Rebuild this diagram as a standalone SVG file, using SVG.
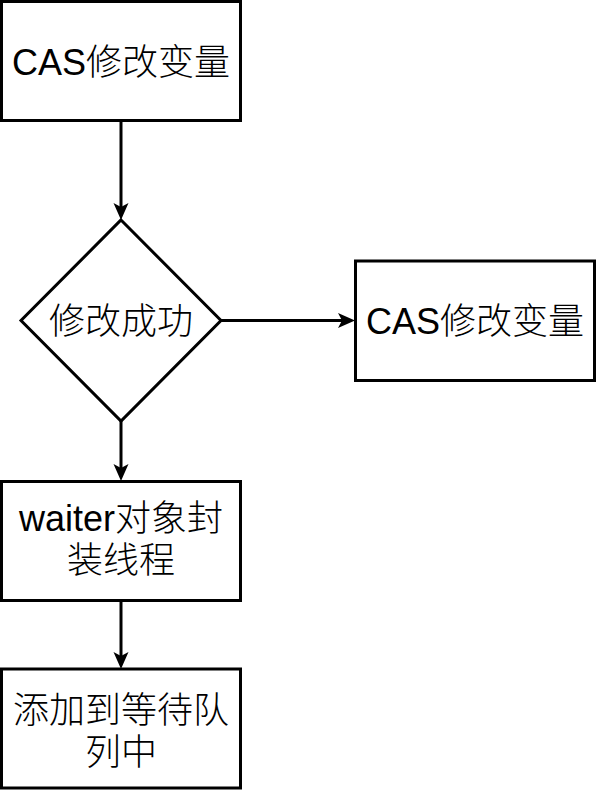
<svg xmlns="http://www.w3.org/2000/svg" width="596" height="790" viewBox="0 0 596 790">
<style>
.node{fill:#ffffff;stroke:#000000;stroke-width:3}
.lbl{font-family:"Liberation Sans","Noto Sans CJK SC",sans-serif;font-size:36px;font-weight:300;fill:#000000;text-anchor:middle}
.edge{fill:none;stroke:#000000;stroke-width:3}
</style>
<defs>
<marker id="arr" markerUnits="userSpaceOnUse" markerWidth="20" markerHeight="18" viewBox="0 0 20 18" refX="5" refY="9" orient="auto">
<path d="M17,9 L0,1.5 L4,9 L0,16.5 Z" fill="#000000"/>
</marker>
</defs>
<rect width="596" height="790" fill="#ffffff"/>
<g id="connectors">
<line class="edge" x1="121" y1="120.5" x2="121" y2="208" marker-end="url(#arr)"/>
<line class="edge" x1="221" y1="320.5" x2="343" y2="320.5" marker-end="url(#arr)"/>
<line class="edge" x1="121" y1="421" x2="121" y2="469" marker-end="url(#arr)"/>
<line class="edge" x1="121" y1="600.5" x2="121" y2="657" marker-end="url(#arr)"/>
</g>
<g id="node-cas1">
<rect class="node" x="1.5" y="1.5" width="239" height="119"/>
<text class="lbl" x="121" y="75">CAS修改变量</text>
</g>
<g id="node-decision">
<path class="node" d="M121,220 L221,320.5 L121,421 L21,320.5 Z"/>
<text class="lbl" x="121" y="334">修改成功</text>
</g>
<g id="node-cas2">
<rect class="node" x="355.5" y="261" width="239" height="119.5"/>
<text class="lbl" x="475" y="334">CAS修改变量</text>
</g>
<g id="node-waiter">
<rect class="node" x="1.5" y="481.5" width="239" height="119"/>
<text class="lbl" x="121" y="531">waiter对象封</text>
<text class="lbl" x="121" y="573">装线程</text>
</g>
<g id="node-queue">
<rect class="node" x="1.5" y="669" width="239" height="119"/>
<text class="lbl" x="121" y="723">添加到等待队</text>
<text class="lbl" x="121" y="765">列中</text>
</g>
</svg>
